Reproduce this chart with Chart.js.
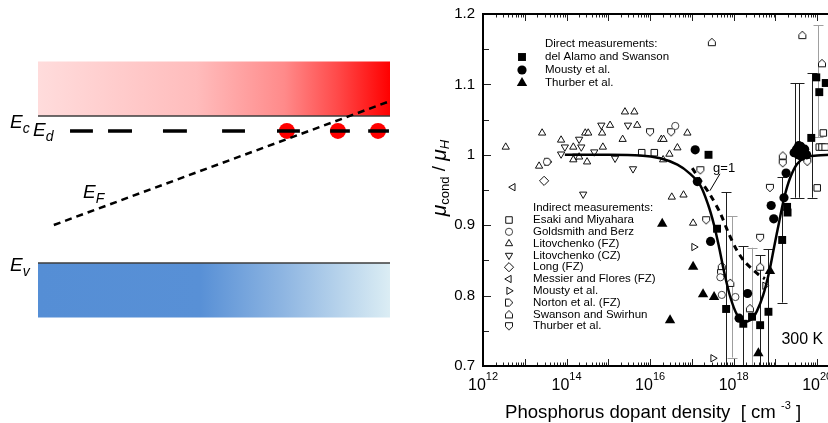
<!DOCTYPE html>
<html>
<head>
<meta charset="utf-8">
<script src="https://cdn.jsdelivr.net/npm/chart.js@4.4.1/dist/chart.umd.min.js"></script>
<style>
  html, body { margin: 0; padding: 0; background: #fff; }
  #wrap { position: relative; width: 828px; height: 423px; overflow: hidden; }
  #bands { position: absolute; left: 0; top: 0; }
  #ratio { position: absolute; left: 410px; top: 0; }
</style>
</head>
<body>
<div id="wrap">
  <canvas id="bands" width="410" height="423"></canvas>
  <canvas id="ratio" width="460" height="423"></canvas>
</div>
<script>
// ---------- left panel: band diagram (x = position 0..1, energy with Ev = 0, Ec = 1)
const bandEc = 1;
const bandEv = 0;
const bandEd = 0.898;
const bandDepth = 0.37;
const efLine = [[0.045, 0.259], [0.994, 1.095]];
const edDashes = [[0.091, 0.156], [0.199, 0.267], [0.355, 0.423], [0.523, 0.588], [0.679, 0.744], [0.830, 0.886], [0.938, 0.997]];
const donorX = [0.707, 0.852, 0.966];

// ---------- right panel: mu_cond / mu_H versus phosphorus density
const xTickExps = [12, 14, 16, 18, 20];
const yTickLabels = ['0.7', '0.8', '0.9', '1', '1.1', '1.2'];

// direct measurements
const delAlamo = [[2.5e17, 1.000], [4.0e17, 0.895], [6.6e17, 0.781], [1.7e18, 0.760], [2.75e18, 0.770], [4.3e18, 0.758],
  [6.8e18, 0.777], [1.45e19, 0.879], [1.9e19, 0.926], [1.95e19, 0.918], [7.2e19, 1.024], [9.5e19, 1.110], [1.12e20, 1.089], [1.6e20, 1.102]];
const moustyDirect = [[1.2e17, 1.007], [1.35e17, 0.962], [2.8e17, 0.877], [1.35e18, 0.768], [2.15e18, 0.803], [7.9e18, 0.928],
  [9.1e18, 0.909], [1.6e19, 0.939], [1.8e19, 0.974], [2.8e19, 1.003], [3.2e19, 1.008], [3.5e19, 1.000], [4.0e19, 1.012],
  [4.2e19, 0.998], [4.5e19, 1.003], [5.0e19, 1.008], [5.6e19, 1.000], [3.6e19, 1.013]];
const thurberDirect = [[1.95e16, 0.902], [1.07e17, 0.841], [3.0e16, 0.765], [1.85e17, 0.802], [3.4e17, 0.798], [3.9e18, 0.718], [7.4e18, 0.835]];

// indirect measurements
const esaki = [[6.3e15, 1.003], [1.26e16, 1.003], [1.0e20, 0.953], [1.4e20, 1.031], [1.12e20, 1.011], [1.3e20, 1.011], [1.55e20, 1.011]];
const goldsmith = [[3.4e13, 0.990], [4.0e16, 1.041], [4.8e17, 0.826], [5.2e17, 0.801], [1.1e18, 0.798]];
const litoFZ = [[3.5e12, 1.011], [2.6e13, 1.031], [2.2e13, 0.984], [7.4e13, 1.021], [1.45e14, 1.011], [1.45e14, 0.993],
  [2.8e14, 1.031], [3.3e14, 1.031], [3.1e14, 0.990], [7.4e14, 1.011], [7.1e14, 1.031], [1.1e15, 1.042], [2.5e15, 1.061],
  [4.2e15, 1.061], [4.9e15, 1.042], [2.2e15, 1.022], [1.85e16, 1.022], [2.1e16, 1.022], [2.9e16, 1.001], [4.5e16, 1.010],
  [7.8e16, 1.031], [3.3e16, 0.940], [6.3e16, 0.943], [1.07e17, 0.903], [2.0e14, 0.997], [2.05e16, 0.993]];
const litoCZ = [[6.8e14, 1.042], [2.95e15, 1.042], [7.4e13, 1.001], [2.0e14, 1.022], [2.25e14, 1.011], [4.6e14, 1.004],
  [2.5e14, 0.944], [1.45e15, 0.995], [3.9e15, 0.980], [9.1e13, 1.011], [1.7e14, 0.998]];
const longFZ = [[2.9e13, 0.963]];
const messier = [[5.2e12, 0.954]];
const moustyIndirect = [[1.12e17, 0.869], [3.2e17, 0.711], [5.6e18, 0.814]];
const norton = [[3.6e13, 0.990]];
const swanson = [[3.0e17, 1.160], [4.4e19, 1.170], [1.3e20, 1.130], [1.5e19, 0.999], [5.2e17, 0.842], [8.3e17, 0.818],
  [4.3e18, 0.841], [2.45e18, 0.782]];
const thurberIndirect = [[1.0e16, 1.032], [3.2e16, 1.032], [7.4e18, 0.953], [4.3e18, 0.882], [1.5e19, 0.988], [5.8e19, 0.990],
  [2.2e17, 0.907], [5.0e17, 0.832], [1.6e17, 0.978]];

// error bars: [density, low, high]
const errDark = [[6.6e17, 0.60, 0.947], [1.7e18, 0.60, 0.870], [4.3e18, 0.60, 0.857], [6.8e18, 0.60, 0.866],
  [1.45e19, 0.790, 0.968], [2.95e19, 0.939, 1.102], [3.7e19, 0.939, 1.102], [7.6e19, 0.939, 1.116]];
const errGrey = [[9.1e17, 0.712, 0.913], [2.75e18, 0.60, 0.868], [1.05e20, 1.025, 1.184]];

// model curves
const fitSolid = [[9.1e13, 1.000], [6.3e14, 1.000], [5.8e15, 0.999], [1.74e16, 0.995], [4.5e16, 0.986], [9.1e16, 0.973],
  [1.58e17, 0.957], [2.45e17, 0.929], [3.4e17, 0.900], [4.5e17, 0.868], [5.9e17, 0.834], [8.3e17, 0.798], [1.2e18, 0.773],
  [1.78e18, 0.763], [2.63e18, 0.766], [3.6e18, 0.778], [5.1e18, 0.801], [7.1e18, 0.834], [9.3e18, 0.869], [1.23e19, 0.905],
  [1.62e19, 0.939], [2.24e19, 0.967], [3.3e19, 0.987], [5.5e19, 0.997], [1.0e20, 0.999], [2.0e20, 1.000]];
const fitG1 = [[1.02e17, 0.981], [1.58e17, 0.964], [2.75e17, 0.943], [4.8e17, 0.917], [7.4e17, 0.890], [1.15e18, 0.866],
  [1.78e18, 0.849], [2.75e18, 0.838], [4.3e18, 0.828], [5.6e18, 0.824]];

Chart.defaults.font.family = 'Arial, "Liberation Sans", sans-serif';
const FONT = 'Arial, "Liberation Sans", sans-serif';

function pts(arr) {
  return arr.map(p => ({ x: p[0], y: p[1] }));
}

// ---------- left chart
function bandGradient(chart, stops) {
  const a = chart.chartArea;
  if (!a) return null;
  const g = chart.ctx.createLinearGradient(a.left, 0, a.right, 0);
  stops.forEach(s => g.addColorStop(s[0], s[1]));
  return g;
}
const redStops = [[0, '#ffdcdc'], [0.45, '#ffbcbc'], [0.7, '#ff8a8a'], [0.85, '#ff4a4a'], [1, '#ff0000']];
const blueStops = [[0, '#558ed5'], [0.46, '#5890d6'], [0.7, '#8fb6e2'], [1, '#dbedf4']];

const edData = [];
edDashes.forEach(d => {
  edData.push({ x: d[0], y: bandEd }, { x: d[1], y: bandEd }, { x: d[1], y: null });
});

function drawE(ctx, sub, x, base) {
  ctx.fillStyle = '#000';
  ctx.textBaseline = 'alphabetic';
  ctx.textAlign = 'left';
  ctx.font = 'italic 19px ' + FONT;
  ctx.fillText('E', x, base);
  const w = ctx.measureText('E').width;
  ctx.font = 'italic 14px ' + FONT;
  ctx.fillText(sub, x + w, base + 5);
}

const bandLabels = {
  id: 'bandLabels',
  afterDraw(chart) {
    const { ctx, scales: { x, y } } = chart;
    const left = x.getPixelForValue(0);
    ctx.save();
    drawE(ctx, 'c', left - 28, y.getPixelForValue(bandEc) + 12);
    drawE(ctx, 'd', left - 5, y.getPixelForValue(bandEd) + 5);
    drawE(ctx, 'F', x.getPixelForValue(0.128), y.getPixelForValue(0.44));
    drawE(ctx, 'v', left - 28, y.getPixelForValue(bandEv) + 8);
    ctx.restore();
  }
};

new Chart(document.getElementById('bands'), {
  type: 'line',
  data: {
    datasets: [
      { data: [{ x: 0, y: bandEc + bandDepth }, { x: 1, y: bandEc + bandDepth }], borderWidth: 0, pointRadius: 0,
        fill: { value: bandEc }, backgroundColor: c => bandGradient(c.chart, redStops), order: 5 },
      { data: [{ x: 0, y: bandEv }, { x: 1, y: bandEv }], borderWidth: 0, pointRadius: 0,
        fill: { value: bandEv - bandDepth }, backgroundColor: c => bandGradient(c.chart, blueStops), order: 5 },
      { data: [{ x: 0, y: bandEc }, { x: 1, y: bandEc }], borderColor: '#3c3c3c', borderWidth: 1.5, pointRadius: 0, order: 4 },
      { data: [{ x: 0, y: bandEv }, { x: 1, y: bandEv }], borderColor: '#3c3c3c', borderWidth: 1.5, pointRadius: 0, order: 4 },
      { data: donorX.map(v => ({ x: v, y: bandEd })), showLine: false, pointRadius: 8, pointStyle: 'circle',
        pointBackgroundColor: '#ff0000', pointBorderWidth: 0, order: 3 },
      { data: edData, borderColor: '#000', borderWidth: 3.5, pointRadius: 0, spanGaps: false, order: 1 },
      { data: pts(efLine), borderColor: '#000', borderWidth: 2.5, borderDash: [7, 5], pointRadius: 0, order: 1 }
    ]
  },
  options: {
    responsive: false,
    animation: false,
    events: [],
    layout: { padding: { left: 38, right: 20, top: 57, bottom: 101 } },
    plugins: { legend: { display: false }, tooltip: { enabled: false } },
    scales: {
      x: { type: 'linear', min: 0, max: 1, display: false },
      y: { type: 'linear', min: -0.4, max: 1.4, display: false }
    }
  },
  plugins: [bandLabels]
});

// ---------- right chart
function houseMark() {
  const c = document.createElement('canvas');
  c.width = 10;
  c.height = 10;
  const g = c.getContext('2d');
  g.beginPath();
  g.moveTo(1.5, 8.5);
  g.lineTo(8.5, 8.5);
  g.lineTo(8.5, 4.5);
  g.lineTo(5, 1.2);
  g.lineTo(1.5, 4.5);
  g.closePath();
  g.fillStyle = '#fff';
  g.fill();
  g.lineWidth = 1;
  g.strokeStyle = '#111';
  g.stroke();
  return c;
}
const house = houseMark();

function markers(label, group, arr, style) {
  return Object.assign({
    label: label,
    group: group,
    data: pts(arr),
    showLine: false,
    pointStyle: 'circle',
    pointRadius: 4,
    pointRotation: 0,
    pointBackgroundColor: '#fff',
    pointBorderColor: '#111',
    pointBorderWidth: 1,
    order: 3
  }, style);
}
const solid = { pointBackgroundColor: '#000', pointBorderColor: '#000', pointBorderWidth: 0 };

const ratioSets = [
  markers('del Alamo and Swanson', 'direct', delAlamo, Object.assign({ pointStyle: 'rect', pointRadius: 5.6 }, solid)),
  markers('Mousty et al.', 'direct', moustyDirect, Object.assign({ pointStyle: 'circle', pointRadius: 4.6 }, solid)),
  markers('Thurber et al.', 'direct', thurberDirect, Object.assign({ pointStyle: 'triangle', pointRadius: 6 }, solid)),
  markers('Esaki and Miyahara', 'indirect', esaki, { pointStyle: 'rect', pointRadius: 4.6 }),
  markers('Goldsmith and Berz', 'indirect', goldsmith, { pointStyle: 'circle', pointRadius: 3.6, pointBorderColor: '#444' }),
  markers('Litovchenko (FZ)', 'indirect', litoFZ, { pointStyle: 'triangle', pointRadius: 4.2 }),
  markers('Litovchenko (CZ)', 'indirect', litoCZ, { pointStyle: 'triangle', pointRadius: 4.2, pointRotation: 180 }),
  markers('Long (FZ)', 'indirect', longFZ, { pointStyle: 'rectRot', pointRadius: 4.6 }),
  markers('Messier and Flores (FZ)', 'indirect', messier, { pointStyle: 'triangle', pointRadius: 4.2, pointRotation: 270 }),
  markers('Mousty et al.', 'indirect', moustyIndirect, { pointStyle: 'triangle', pointRadius: 4.2, pointRotation: 90 }),
  markers('Norton et al. (FZ)', 'indirect', norton, { pointStyle: house, pointRotation: 90 }),
  markers('Swanson and Swirhun', 'indirect', swanson, { pointStyle: house }),
  markers('Thurber et al.', 'indirect', thurberIndirect, { pointStyle: house, pointRotation: 180 }),
  { label: 'model', data: pts(fitSolid), borderColor: '#000', borderWidth: 2.5, pointRadius: 0, tension: 0.3, order: 1 },
  { label: 'g=1', data: pts(fitG1), borderColor: '#000', borderWidth: 3, borderDash: [6, 5], pointRadius: 0, tension: 0.3, order: 1 }
];

function legendMark(ctx, ds, x, y) {
  ctx.save();
  ctx.fillStyle = ds.pointBackgroundColor;
  ctx.strokeStyle = ds.pointBorderColor;
  ctx.lineWidth = ds.pointBorderWidth;
  Chart.helpers.drawPoint(ctx, {
    pointStyle: ds.pointStyle,
    rotation: ds.pointRotation,
    radius: ds.pointRadius,
    borderWidth: ds.pointBorderWidth
  }, x, y);
  ctx.restore();
}

const ratioDecor = {
  id: 'ratioDecor',
  beforeDatasetsDraw(chart) {
    const { ctx, chartArea: a, scales: { x, y } } = chart;
    ctx.save();
    ctx.beginPath();
    ctx.rect(a.left, a.top, a.right - a.left, a.bottom - a.top);
    ctx.clip();
    const bars = (list, colour) => {
      ctx.strokeStyle = colour;
      ctx.lineWidth = 1;
      list.forEach(b => {
        const px = Math.round(x.getPixelForValue(b[0])) + 0.5;
        const lo = y.getPixelForValue(b[1]);
        const hi = y.getPixelForValue(b[2]);
        ctx.beginPath();
        ctx.moveTo(px, lo);
        ctx.lineTo(px, hi);
        ctx.moveTo(px - 5, Math.round(hi) + 0.5);
        ctx.lineTo(px + 5, Math.round(hi) + 0.5);
        ctx.moveTo(px - 5, Math.round(lo) + 0.5);
        ctx.lineTo(px + 5, Math.round(lo) + 0.5);
        ctx.stroke();
      });
    };
    bars(errGrey, '#a0a0a0');
    bars(errDark, '#1e1e1e');
    ctx.restore();
  },
  afterDatasetsDraw(chart) {
    const { ctx, chartArea: a, scales: { x, y } } = chart;
    ctx.save();

    // inward ticks
    ctx.strokeStyle = '#222';
    ctx.lineWidth = 1;
    ctx.beginPath();
    for (let e = 12; e <= 20; e++) {
      for (let m = 1; m <= 9; m++) {
        const px = Math.round(x.getPixelForValue(m * Math.pow(10, e))) + 0.5;
        if (px > a.right) continue;
        const len = m === 1 ? 7 : 3.5;
        ctx.moveTo(px, a.bottom);
        ctx.lineTo(px, a.bottom - len);
        ctx.moveTo(px, a.top);
        ctx.lineTo(px, a.top + len);
      }
    }
    for (let i = 0; i <= 10; i++) {
      const py = Math.round(y.getPixelForValue(0.7 + i * 0.05)) + 0.5;
      ctx.moveTo(a.left, py);
      ctx.lineTo(a.left + (i % 2 === 0 ? 8 : 6), py);
    }
    ctx.stroke();

    // frame
    ctx.strokeStyle = '#000';
    ctx.lineWidth = 2;
    ctx.strokeRect(a.left, a.top, a.right - a.left, a.bottom - a.top);

    // y tick labels
    ctx.fillStyle = '#000';
    ctx.font = '15px ' + FONT;
    ctx.textAlign = 'right';
    ctx.textBaseline = 'middle';
    yTickLabels.forEach(t => ctx.fillText(t, a.left - 8, y.getPixelForValue(parseFloat(t))));

    // x tick labels 10^n, whole label centred on its tick
    ctx.textBaseline = 'alphabetic';
    ctx.textAlign = 'left';
    xTickExps.forEach(e => {
      const px = x.getPixelForValue(Math.pow(10, e));
      ctx.font = '16px ' + FONT;
      const w = ctx.measureText('10').width;
      ctx.font = '11px ' + FONT;
      const ws = ctx.measureText(String(e)).width;
      const x0 = px - (w + ws) / 2;
      ctx.font = '16px ' + FONT;
      ctx.fillText('10', x0, a.bottom + 24);
      ctx.font = '11px ' + FONT;
      ctx.fillText(String(e), x0 + w, a.bottom + 14);
    });

    // x title
    ctx.textAlign = 'left';
    ctx.font = '18.6px ' + FONT;
    let tx = a.left + 22;
    const ty = a.bottom + 52;
    const t1 = 'Phosphorus dopant density  [ cm ';
    ctx.fillText(t1, tx, ty);
    tx += ctx.measureText(t1).width;
    ctx.font = '11px ' + FONT;
    ctx.fillText('-3', tx, ty - 9);
    tx += ctx.measureText('-3').width;
    ctx.font = '18.6px ' + FONT;
    ctx.fillText(' ]', tx, ty);

    // y title, rotated
    ctx.save();
    ctx.translate(a.left - 43, y.getPixelForValue(0.967));
    ctx.rotate(-Math.PI / 2);
    const parts = [
      ['italic 21px ' + FONT, '\u03bc', 0],
      ['13px ' + FONT, 'cond', 5],
      ['19px ' + FONT, ' / ', 0],
      ['italic 21px ' + FONT, '\u03bc', 0],
      ['italic 13px ' + FONT, 'H', 5]
    ];
    let total = 0;
    parts.forEach(p => { ctx.font = p[0]; total += ctx.measureText(p[1]).width; });
    let cx = -total / 2;
    ctx.textAlign = 'left';
    ctx.textBaseline = 'middle';
    parts.forEach(p => {
      ctx.font = p[0];
      ctx.fillText(p[1], cx, p[2]);
      cx += ctx.measureText(p[1]).width;
    });
    ctx.restore();

    // legends
    const direct = chart.data.datasets.filter(d => d.group === 'direct');
    const indirect = chart.data.datasets.filter(d => d.group === 'indirect');
    ctx.font = '11.5px ' + FONT;
    ctx.textAlign = 'left';
    ctx.textBaseline = 'middle';
    ctx.fillStyle = '#000';
    ctx.fillText('Direct measurements:', a.left + 62, a.top + 30);
    direct.forEach((d, i) => {
      const ly = a.top + 43 + i * 13;
      legendMark(ctx, d, a.left + 39, ly);
      ctx.fillStyle = '#000';
      ctx.fillText(d.label, a.left + 62, ly);
    });
    ctx.fillText('Indirect measurements:', a.left + 50, a.top + 194);
    indirect.forEach((d, i) => {
      const ly = a.top + 206 + i * 11.8;
      legendMark(ctx, d, a.left + 26, ly);
      ctx.fillStyle = '#000';
      ctx.fillText(d.label, a.left + 50, ly);
    });

    // g=1 note with leader
    ctx.strokeStyle = '#000';
    ctx.lineWidth = 1;
    ctx.beginPath();
    ctx.moveTo(x.getPixelForValue(4.7e17), y.getPixelForValue(0.973));
    ctx.lineTo(x.getPixelForValue(2.7e17), y.getPixelForValue(0.949));
    ctx.stroke();
    ctx.font = '13px ' + FONT;
    ctx.textAlign = 'center';
    ctx.fillText('g=1', x.getPixelForValue(5.9e17), y.getPixelForValue(0.981));

    ctx.font = '16px ' + FONT;
    ctx.fillText('300 K', x.getPixelForValue(4.4e19), y.getPixelForValue(0.738));
    ctx.restore();
  }
};

new Chart(document.getElementById('ratio'), {
  type: 'line',
  data: { datasets: ratioSets },
  options: {
    responsive: false,
    animation: false,
    events: [],
    layout: { padding: { left: 73, right: 11, top: 14, bottom: 57 } },
    plugins: { legend: { display: false }, tooltip: { enabled: false } },
    scales: {
      x: { type: 'logarithmic', min: 1e12, max: 1e21, display: false },
      y: { type: 'linear', min: 0.7, max: 1.2, display: false }
    }
  },
  plugins: [ratioDecor]
});
</script>
</body>
</html>
